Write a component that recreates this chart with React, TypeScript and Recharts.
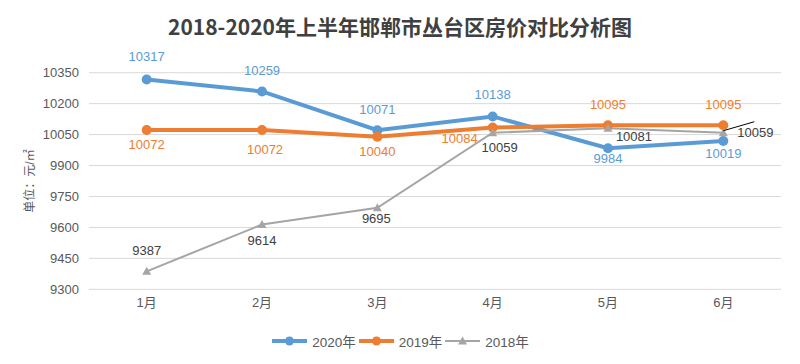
import React from 'react';
import { LineChart, Line, XAxis, YAxis, CartesianGrid, Legend, LabelList } from 'recharts';

const months = ['1月', '2月', '3月', '4月', '5月', '6月'];
const price2020 = [10317, 10259, 10071, 10138, 9984, 10019];
const price2019 = [10072, 10072, 10040, 10084, 10095, 10095];
const price2018 = [9387, 9614, 9695, 10059, 10081, 10059];
const yTicks = [9300, 9450, 9600, 9750, 9900, 10050, 10200, 10350];

const data = months.map((m, i) => ({
  month: m,
  y2020: price2020[i],
  y2019: price2019[i],
  y2018: price2018[i],
}));

const BLUE = '#5B9BD5';
const ORANGE = '#ED7D31';
const GRAY = '#A5A5A5';
const TEXT = '#595959';
const FONT = '"Liberation Sans", "Noto Sans CJK SC", Arial, sans-serif';

// where each value label sits relative to its point [dx, dy]
const place2020 = [[0, -23], [0, -21], [0, -21], [0, -22], [0, 10], [0, 13]];
const place2019 = [[0, 14], [3, 19], [0, 15], [-33, 11], [0, -21], [0, -21]];
const place2018 = [[0, -21], [0, 16], [-1, 11], [7, 15], [26, 8], [32, 0]];

const makeLabel = (place: number[][], color: string, leaderAt = -1) => (props: any) => {
  const { index, value } = props;
  const x = props.viewBox?.x ?? props.x;
  const y = props.viewBox?.y ?? props.y;
  if (x == null || y == null || !place[index]) return null;
  const [dx, dy] = place[index];
  return (
    <g>
      {index === leaderAt && (
        <line x1={x} y1={y - 2} x2={x + 31} y2={y - 11} stroke="#000" strokeWidth={1} />
      )}
      <text
        x={x + dx}
        y={y + dy}
        textAnchor="middle"
        dominantBaseline="central"
        fill={color}
        fontSize={13}
        fontFamily={FONT}
      >
        {value}
      </text>
    </g>
  );
};

const Triangle = (props: any) => {
  const { cx, cy, index } = props;
  if (cx == null || cy == null) return <g key={`t-${index}`} />;
  return (
    <path
      key={`t-${index}`}
      d={`M${cx},${cy - 4.5} L${cx + 4.5},${cy + 3.5} L${cx - 4.5},${cy + 3.5} Z`}
      fill={GRAY}
    />
  );
};

const legendItems = [
  { name: '2020年', color: BLUE, shape: 'circle' },
  { name: '2019年', color: ORANGE, shape: 'circle' },
  { name: '2018年', color: GRAY, shape: 'triangle' },
];

const LegendBox = () => (
  <div style={{ display: 'flex', justifyContent: 'center', alignItems: 'center', height: 20, gap: 2 }}>
    {legendItems.map((it) => (
      <div key={it.name} style={{ display: 'flex', alignItems: 'center' }}>
        <svg width={37} height={12}>
          <line x1={1} y1={6} x2={36} y2={6} stroke={it.color} strokeWidth={it.shape === 'circle' ? 4 : 2} />
          {it.shape === 'circle' ? (
            <circle cx={18.5} cy={6} r={4.5} fill={it.color} />
          ) : (
            <path d="M18.5,1.5 L23,9.5 L14,9.5 Z" fill={it.color} />
          )}
        </svg>
        <span style={{ fontSize: 13.5, color: TEXT, fontFamily: FONT, marginLeft: 4 }}>{it.name}</span>
      </div>
    ))}
  </div>
);

export default function App() {
  return (
    <div style={{ position: 'absolute', left: 0, top: 0, width: 800, height: 364, background: '#fff' }}>
      <div
        style={{
          position: 'absolute',
          top: 10,
          left: 0,
          width: 800,
          height: 32,
          lineHeight: '32px',
          textAlign: 'center',
          fontSize: 21,
          fontWeight: 'bold',
          color: '#404040',
          fontFamily: '"Noto Sans CJK SC", "Liberation Sans", sans-serif',
          zIndex: 1,
        }}
      >
        2018-2020年上半年邯郸市丛台区房价对比分析图
      </div>
      <LineChart
        width={800}
        height={364}
        data={data}
        margin={{ top: 72.7, right: 19, bottom: 14.7, left: 29 }}
      >
        <CartesianGrid vertical={false} stroke="#D9D9D9" strokeWidth={1} />
        <XAxis
          dataKey="month"
          axisLine={false}
          tickLine={false}
          tickSize={0}
          tickMargin={8}
          height={40}
          padding={{ left: 57.7, right: 57.7 }}
          tick={{ fill: TEXT, fontSize: 13, fontFamily: FONT }}
        />
        <YAxis
          domain={[9300, 10350]}
          ticks={yTicks}
          interval={0}
          axisLine={false}
          tickLine={false}
          tickSize={0}
          tickMargin={10}
          width={60}
          tick={{ fill: TEXT, fontSize: 13, fontFamily: FONT }}
          label={{
            value: '单位：元/㎡',
            angle: -90,
            position: 'insideLeft',
            offset: 1,
            textAnchor: 'middle',
            fill: TEXT,
            fontSize: 12,
            fontFamily: FONT,
          }}
        />
        <Legend
          verticalAlign="bottom"
          content={() => <LegendBox />}
          wrapperStyle={{ left: 0, width: 800, bottom: 13 }}
        />
        <Line
          type="linear"
          dataKey="y2020"
          name="2020年"
          stroke={BLUE}
          strokeWidth={4}
          dot={{ r: 5, fill: BLUE, stroke: BLUE, strokeWidth: 0 }}
          activeDot={false}
          isAnimationActive={false}
        >
          <LabelList dataKey="y2020" content={makeLabel(place2020, BLUE)} />
        </Line>
        <Line
          type="linear"
          dataKey="y2019"
          name="2019年"
          stroke={ORANGE}
          strokeWidth={4}
          dot={{ r: 5, fill: ORANGE, stroke: ORANGE, strokeWidth: 0 }}
          activeDot={false}
          isAnimationActive={false}
        >
          <LabelList dataKey="y2019" content={makeLabel(place2019, ORANGE)} />
        </Line>
        <Line
          type="linear"
          dataKey="y2018"
          name="2018年"
          stroke={GRAY}
          strokeWidth={2}
          dot={Triangle}
          activeDot={false}
          isAnimationActive={false}
        >
          <LabelList dataKey="y2018" content={makeLabel(place2018, '#404040', 5)} />
        </Line>
      </LineChart>
    </div>
  );
}
